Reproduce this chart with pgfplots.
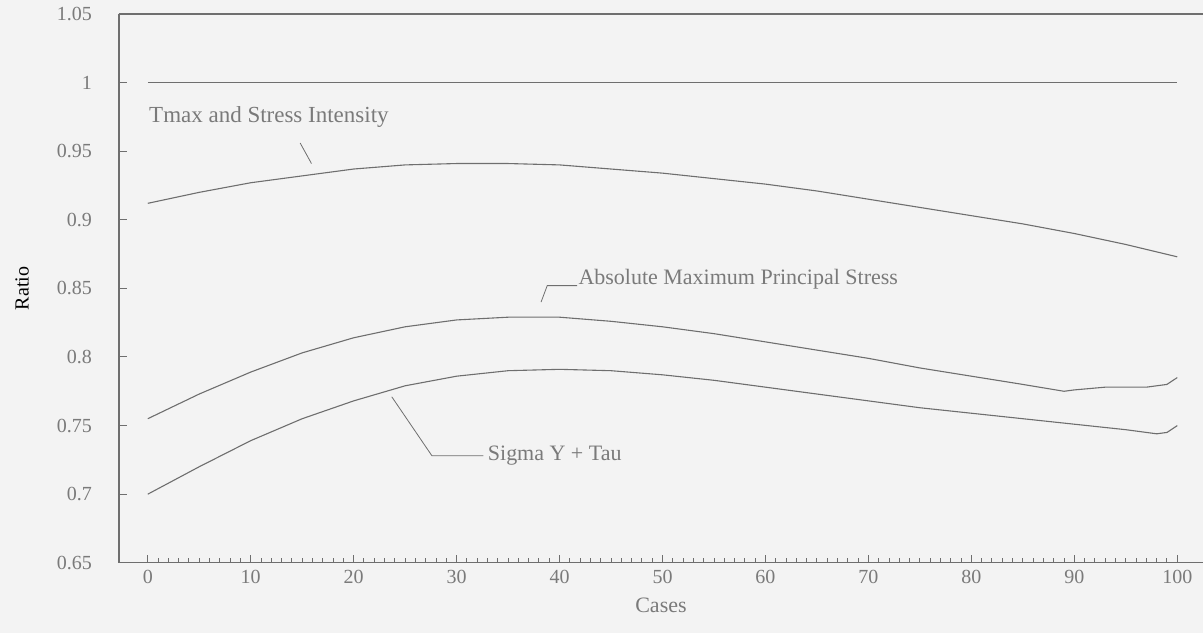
\documentclass[border=0pt]{standalone}
\usepackage{pgfplots}
\pgfplotsset{compat=1.18}
\usepackage{fontspec}
\setmainfont{Liberation Serif}
\definecolor{ink}{HTML}{6E6E6E}
\definecolor{txt}{HTML}{7A7A7A}
\definecolor{paper}{HTML}{F3F3F3}
\begin{document}
\begin{tikzpicture}
\path[use as bounding box, fill=paper] (-59.5pt,-35pt) rectangle (542.25pt,281.5pt);
\begin{axis}[
  at={(0,0)}, anchor=south west,
  scale only axis, width=542.25pt, height=274.5pt,
  xmin=-2.8, xmax=102.5, ymin=0.65, ymax=1.05,
  axis x line*=bottom, axis y line*=left,
  axis line style={ink, line width=0.6pt},
  xtick={0,10,...,100}, minor x tick num=9,
  ytick={0.65,0.7,...,1.05},
  yticklabels={0.65,0.7,0.75,0.8,0.85,0.9,0.95,1,1.05},
  tick align=inside, major tick length=4pt, minor tick length=2.5pt,
  tick style={ink, line width=0.5pt},
  /pgf/number format/assume math mode=true,
  ticklabel style={font=\fontsize{10}{12}\selectfont, text=txt},
  yticklabel style={xshift=-10pt},
  xlabel={Cases}, ylabel={Ratio},
  label style={font=\fontsize{11}{13}\selectfont, text=txt},
  xlabel style={yshift=-0.5pt},
  every axis y label/.style={at={(axis description cs:0,0.5)}, xshift=-48.5pt, rotate=90, anchor=center},
  clip=false,
]
\draw[ink, line width=0.6pt] (rel axis cs:0,1) -- (rel axis cs:1,1);
\addplot[ink, line width=0.55pt] coordinates {(0,1) (100,1)};
\addplot[ink, line width=0.55pt] coordinates {
(0,0.912) (5,0.920) (10,0.927) (15,0.932) (20,0.937) (25,0.940) (30,0.941) (35,0.941) (40,0.940) (45,0.937) (50,0.934) (55,0.930) (60,0.926) (65,0.921) (70,0.915) (75,0.909) (80,0.903) (85,0.897) (90,0.890) (95,0.882) (100,0.873)};
\addplot[ink, line width=0.55pt] coordinates {
(0,0.755) (5,0.773) (10,0.789) (15,0.803) (20,0.814) (25,0.822) (30,0.827) (35,0.829) (40,0.829) (45,0.826) (50,0.822) (55,0.817) (60,0.811) (65,0.805) (70,0.799) (75,0.792) (80,0.786) (85,0.780) (89,0.775) (90,0.776) (93,0.778) (97,0.778) (99,0.780) (100,0.785)};
\addplot[ink, line width=0.55pt] coordinates {
(0,0.700) (5,0.720) (10,0.739) (15,0.755) (20,0.768) (25,0.779) (30,0.786) (35,0.790) (40,0.791) (45,0.790) (50,0.787) (55,0.783) (60,0.778) (65,0.773) (70,0.768) (75,0.763) (80,0.759) (85,0.755) (90,0.751) (95,0.747) (98,0.744) (99,0.745) (100,0.750)};
% annotations
\node[anchor=west, text=txt, font=\fontsize{11.5}{13}\selectfont, inner sep=0pt] at (axis cs:0.1,0.975) {Tmax and Stress Intensity};
\draw[ink, line width=0.4pt] (axis cs:14.8,0.956) -- (axis cs:15.9,0.941);
\node[anchor=west, text=txt, font=\fontsize{11}{13}\selectfont, inner sep=0pt] at (axis cs:41.8,0.857) {Absolute Maximum Principal Stress};
\draw[ink, line width=0.4pt] (axis cs:41.7,0.852) -- (axis cs:38.8,0.852) -- (axis cs:38.2,0.840);
\node[anchor=west, text=txt, font=\fontsize{11}{13}\selectfont, inner sep=0pt] at (axis cs:33.0,0.728) {Sigma Y + Tau};
\draw[ink, line width=0.4pt] (axis cs:23.7,0.771) -- (axis cs:27.6,0.728) -- (axis cs:32.6,0.728);
\end{axis}
\end{tikzpicture}
\end{document}
